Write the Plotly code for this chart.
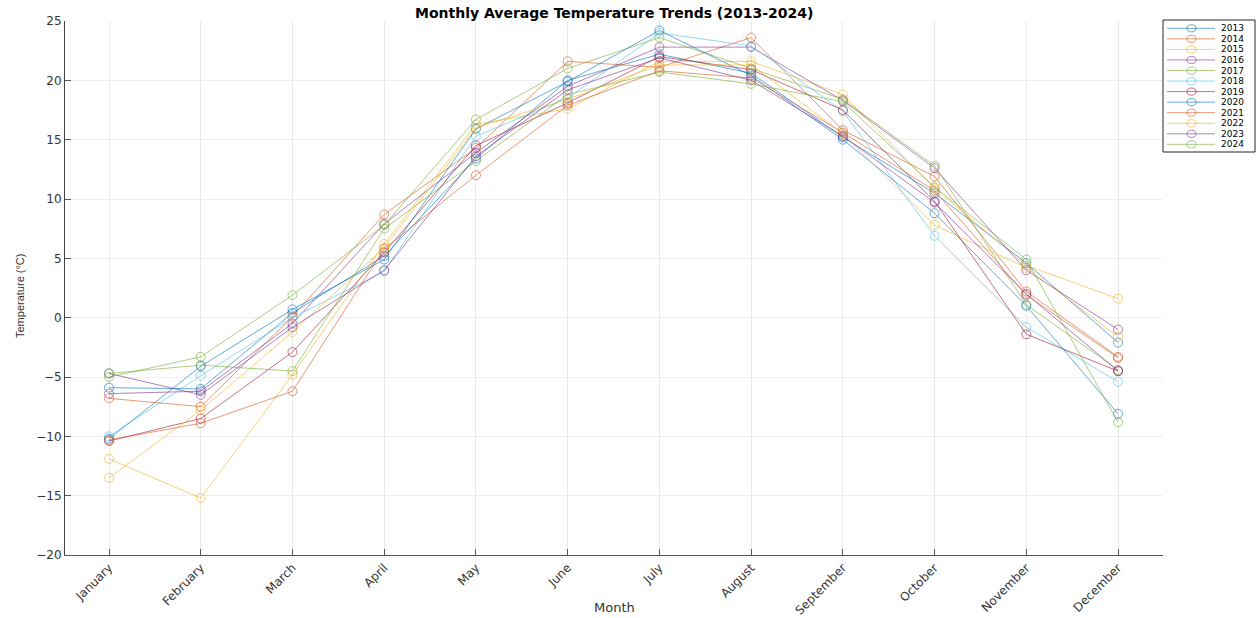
import plotly.graph_objects as go

months = ["January", "February", "March", "April", "May", "June",
          "July", "August", "September", "October", "November", "December"]
years = ["2013", "2014", "2015", "2016", "2017", "2018",
         "2019", "2020", "2021", "2022", "2023", "2024"]

t2013 = [-5.9, -6.0, 0.4, 5.2, 13.4, 20.0, 22.2, 20.6, 15.2, 10.5, 4.6, -2.1]
t2014 = [-6.8, -7.5, 0.1, 8.7, 14.3, 21.6, 21.1, 23.6, 15.8, 11.9, 2.2, -3.3]
t2015 = [-11.9, -15.2, -4.8, 6.2, 16.3, 17.6, 21.6, 21.6, 18.8, 10.9, 4.4, 1.6]
t2016 = [-6.4, -6.2, -0.5, 7.9, 13.9, 19.5, 22.8, 22.8, 18.3, 12.6, 4.0, -1.0]
t2017 = [-5.0, -3.3, 1.9, 7.8, 16.7, 21.0, 23.6, 21.0, 18.4, 12.8, 1.1, -4.4]
t2018 = [-10.0, -4.9, 0.0, 3.9, 15.3, 18.5, 24.0, 22.9, 17.4, 6.9, -0.8, -5.4]
t2019 = [-10.4, -8.5, -2.9, 5.5, 14.5, 18.1, 22.0, 20.9, 17.5, 9.8, -1.4, -4.5]
t2020 = [-10.2, -4.1, 0.7, 4.9, 15.9, 19.9, 24.2, 20.4, 15.0, 8.8, 1.0, -8.1]
t2021 = [-10.3, -8.9, -6.2, 5.8, 12.0, 17.9, 20.8, 20.2, 15.6, 10.7, 1.9, -3.4]
t2022 = [-13.5, -7.8, -1.2, 5.9, 16.0, 18.4, 21.3, 21.3, 15.5, 7.8, 4.2, -1.6]
t2023 = [-4.7, -6.5, -0.8, 4.0, 13.6, 19.2, 21.9, 20.0, 15.3, 9.7, 2.0, -4.5]
t2024 = [-4.7, -4.0, -4.5, 7.5, 13.2, 18.8, 20.7, 19.7, 18.2, 11.0, 4.9, -8.8]

series = [t2013, t2014, t2015, t2016, t2017, t2018,
          t2019, t2020, t2021, t2022, t2023, t2024]

base = [(0, 114, 189), (217, 83, 25), (237, 177, 32), (126, 47, 142),
        (119, 172, 48), (77, 190, 238), (162, 20, 47)]
alpha = 0.6
colors = ["rgba(%d,%d,%d,%.2f)" % (base[i % 7] + (alpha,)) for i in range(12)]

x = list(range(1, 13))

fig = go.Figure()
for yr, vals, c in zip(years, series, colors):
    fig.add_trace(go.Scatter(
        x=x, y=vals, name=yr, mode="lines+markers",
        line=dict(color=c, width=1),
        marker=dict(symbol="circle-open", size=9, color=c, line=dict(width=1, color=c)),
        showlegend=False,
    ))

W, H = 1259, 618
L, R, T, B = 65, 96, 21, 63
pw, ph = W - L - R, H - T - B


def px(xp):
    return (xp - L) / pw


def py(yp):
    return 1 - (yp - T) / ph


font = "DejaVu Sans, Liberation Sans, Arial"

# compact legend in MATLAB style
fig.add_shape(type="rect", xref="paper", yref="paper",
              x0=px(1163), x1=px(1255), y0=py(152), y1=py(20),
              line=dict(color="#262626", width=1), fillcolor="white", layer="above")
for i, (yr, c) in enumerate(zip(years, colors)):
    yc = 28.3 + i * 10.55
    fig.add_shape(type="line", xref="paper", yref="paper",
                  x0=px(1167), x1=px(1215), y0=py(yc), y1=py(yc),
                  line=dict(color=c, width=1), layer="above")
    fig.add_shape(type="circle", xref="paper", yref="paper",
                  x0=px(1187), x1=px(1196), y0=py(yc + 3.6), y1=py(yc - 3.6),
                  line=dict(color=c, width=1), fillcolor="rgba(0,0,0,0)", layer="above")
    fig.add_annotation(xref="paper", yref="paper", x=px(1220), y=py(yc),
                       text=yr, showarrow=False, xanchor="left", yanchor="middle",
                       borderpad=0,
                       font=dict(family=font, size=9, color="#000"))

# title and axis titles
fig.add_annotation(xref="paper", yref="paper", x=px(614), y=py(13),
                   text="<b>Monthly Average Temperature Trends (2013-2024)</b>",
                   showarrow=False, xanchor="center", yanchor="middle",
                   font=dict(family=font, size=14, color="#000"))
fig.add_annotation(xref="paper", yref="paper", x=px(614), y=py(607),
                   text="Month", showarrow=False, xanchor="center", yanchor="middle",
                   font=dict(family=font, size=13, color="#333"))
fig.add_annotation(xref="paper", yref="paper", x=px(20), y=py(296),
                   text="Temperature (°C)", showarrow=False, textangle=-90,
                   xanchor="center", yanchor="middle",
                   font=dict(family="Liberation Sans Narrow, Liberation Sans", size=11, color="#333"))

fig.update_layout(
    width=W, height=H,
    margin=dict(l=L, r=R, t=T, b=B, autoexpand=False),
    paper_bgcolor="white", plot_bgcolor="white",
    xaxis=dict(
        range=[0.52, 12.49], tickmode="array", tickvals=x, ticktext=months,
        tickangle=-45, ticks="inside", ticklen=6, tickcolor="#555",
        showgrid=True, gridcolor="#e8e8e8", gridwidth=1,
        showline=True, linecolor="#555", linewidth=1, zeroline=False,
        automargin=False,
        tickfont=dict(family=font, size=12, color="#333"),
    ),
    yaxis=dict(
        range=[-20, 25], tickmode="array", tickvals=list(range(-20, 26, 5)),
        ticks="inside", ticklen=6, tickcolor="#555",
        showgrid=True, gridcolor="#eeeeee", gridwidth=1,
        showline=True, linecolor="#444", linewidth=1, zeroline=False,
        automargin=False,
        tickfont=dict(family=font, size=12, color="#333"),
    ),
)

fig.write_html("out.html")
